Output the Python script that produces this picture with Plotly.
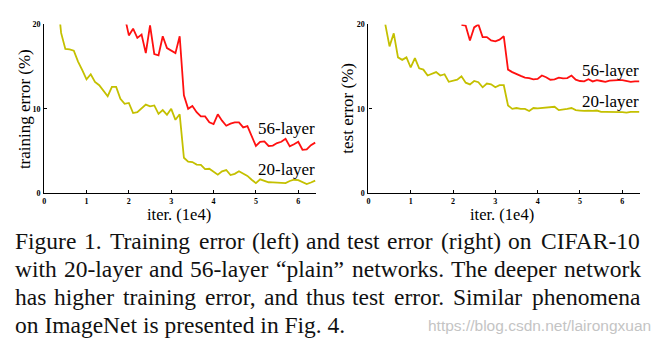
import plotly.graph_objects as go

W, H = 654, 345

# ---------------- data ----------------
train20_x = [round(0.3 + 0.1 * i, 1) for i in range(62)]
train20_y = [24.0, 19.0, 17.1, 17.05, 16.9, 15.6, 14.6, 13.5, 14.1, 13.2,
             12.8, 12.2, 11.5, 12.6, 12.6, 11.2, 10.6, 10.7, 9.5, 9.6,
             10.1, 10.5, 10.3, 10.4, 9.4, 9.85, 9.3, 10.0, 8.7, 9.35,
             4.2, 3.75, 3.7, 3.4, 3.35, 2.85, 2.9, 2.6, 2.2, 2.6,
             2.75, 2.15, 2.3, 2.6, 2.3, 2.05, 1.6, 1.2, 1.65, 1.45,
             1.3, 1.28, 1.25, 1.2, 1.2, 1.45, 1.6, 1.55, 1.35, 1.08,
             1.27, 1.5]

train56_x = [round(1.9 + 0.1 * i, 1) for i in range(46)]
train56_y = [21.0, 18.7, 19.5, 18.4, 18.8, 16.6, 19.9, 16.5, 16.35, 18.6,
             17.2, 16.9, 16.6, 18.6, 11.6, 10.0, 10.35, 9.6, 9.1, 9.1,
             8.4, 8.2, 9.35, 8.6, 8.0, 8.25, 8.4, 8.4, 7.8, 7.95,
             6.8, 5.6, 6.1, 6.15, 5.6, 5.65, 5.95, 6.1, 6.45, 5.55,
             5.8, 6.1, 5.15, 5.2, 5.7, 6.0]

test20_x = [round(0.4 + 0.1 * i, 1) for i in range(61)]
test20_y = [20.0, 17.4, 18.95, 16.1, 15.8, 16.1, 14.9, 16.0, 14.8, 14.65,
            13.95, 14.15, 14.35, 13.95, 14.1, 13.2, 13.3, 13.45, 13.85, 13.1,
            12.9, 13.3, 13.15, 12.55, 13.0, 12.9, 12.55, 12.8, 12.8, 10.4,
            10.0, 10.1, 10.0, 10.0, 9.75, 10.1, 10.05, 10.1, 10.1, 10.15,
            10.25, 9.85, 9.9, 10.0, 10.1, 9.85, 9.8, 9.75, 9.8, 9.75,
            9.8, 9.65, 9.65, 9.65, 9.65, 9.6, 9.6, 9.55, 9.65, 9.65,
            9.65]

test56_x = [round(2.2 + 0.1 * i, 1) for i in range(43)]
test56_y = [19.95, 19.85, 18.1, 19.65, 20.0, 18.5, 18.5, 18.1, 18.0, 18.2,
            18.6, 14.65, 14.35, 14.1, 13.9, 13.7, 13.65, 13.5, 13.55, 13.95,
            13.75, 13.45, 13.5, 13.7, 13.6, 13.65, 13.95, 13.45, 13.3, 13.25,
            13.5, 13.25, 13.4, 13.3, 13.2, 13.35, 13.4, 13.4, 13.4, 13.3,
            13.2, 13.25, 13.25]

x_ticks = [0, 1, 2, 3, 4, 5, 6]
y_ticks = [0, 10, 20]

caption_lines = [
    "Figure 1. Training error (left) and test error (right) on CIFAR-10",
    "with 20-layer and 56-layer \u201cplain\u201d networks. The deeper network",
    "has higher training error, and thus test error. Similar phenomena",
    "on ImageNet is presented in Fig. 4.",
]
watermark = "https://blog.csdn.net/lairongxuan"

# ---------------- styling ----------------
RED = "#ff1010"
YEL = "#c4c000"
SERIF = "Liberation Serif"

def px(x):
    return x / W

def py(y):
    return 1 - y / H

fig = go.Figure()
fig.add_trace(go.Scatter(x=train56_x, y=train56_y, mode="lines",
                         line=dict(color=RED, width=1.8), xaxis="x", yaxis="y"))
fig.add_trace(go.Scatter(x=train20_x, y=train20_y, mode="lines",
                         line=dict(color=YEL, width=1.8), xaxis="x", yaxis="y"))
fig.add_trace(go.Scatter(x=test56_x, y=test56_y, mode="lines",
                         line=dict(color=RED, width=1.8), xaxis="x2", yaxis="y2"))
fig.add_trace(go.Scatter(x=test20_x, y=test20_y, mode="lines",
                         line=dict(color=YEL, width=1.8), xaxis="x2", yaxis="y2"))

tickfont = dict(family=SERIF, size=8, color="black", weight="bold")
common = dict(showline=True, linecolor="black", linewidth=1.3, ticks="inside",
              ticklen=3, tickwidth=1, tickcolor="black", showgrid=False,
              zeroline=False, tickfont=tickfont, mirror=False)

ydom = [py(194.3), py(21)]
fig.update_layout(
    width=W, height=H, margin=dict(l=0, r=0, t=0, b=0),
    paper_bgcolor="white", plot_bgcolor="white", showlegend=False,
    xaxis=dict(domain=[px(42.3), px(315)], range=[0, 6.42], tickvals=x_ticks,
               anchor="y", ticklabelstandoff=0, **common),
    yaxis=dict(domain=ydom, range=[0, 20], tickvals=y_ticks, anchor="x",
               ticklabelstandoff=1, **common),
    xaxis2=dict(domain=[px(367.5), px(640)], range=[0, 6.42], tickvals=x_ticks,
                anchor="y2", ticklabelstandoff=0, **common),
    yaxis2=dict(domain=ydom, range=[0, 20], tickvals=y_ticks, anchor="x2",
                ticklabelstandoff=1, **common),
)

ann = []
def text(x, y, s, size, xanchor="center", yanchor="middle", angle=0,
         color="black", family=SERIF):
    ann.append(dict(x=px(x), y=py(y), xref="paper", yref="paper", text=s,
                    showarrow=False, xanchor=xanchor, yanchor=yanchor,
                    textangle=angle, font=dict(family=family, size=size, color=color),
                    borderpad=0))

# axis titles
text(22, 108, "training error (%)", 17, angle=-90)
text(346.5, 107, "test error (%)", 17, angle=-90)
text(177.5, 216, "iter. (1e4)", 16.5)
text(501.5, 216, "iter. (1e4)", 16.5)

# curve labels
text(315, 128, "56-layer", 17, xanchor="right")
text(315, 170, "20-layer", 17, xanchor="right")
text(640, 68, "56-layer", 17, xanchor="right")
text(640, 100, "20-layer", 17, xanchor="right")

# caption (justified lines placed word by word, by word centre)
TW = {' ': 250, '(': 333, ')': 333, ',': 250, '-': 333, '.': 250, '%': 833,
      'A': 722, 'C': 667, 'F': 556, 'I': 333, 'N': 722, 'R': 667, 'S': 556,
      'T': 611, 'a': 444, 'b': 500, 'c': 444, 'd': 500, 'e': 444, 'f': 333,
      'g': 500, 'h': 500, 'i': 278, 'k': 500, 'l': 278, 'm': 778, 'n': 500,
      'o': 500, 'p': 500, 'r': 333, 's': 389, 't': 278, 'u': 500, 'w': 722,
      'y': 500, 'v': 500, 'x': 500, '\u201c': 444, '\u201d': 444}
K = 1.045
def wwidth(word, fs):
    return sum(TW.get(c, 500) for c in word) / 1000 * fs * K

CAP_FS = 23.5
cap_left, cap_right = 12, 643
cap_y = [243, 272, 301, 330]
for i, line in enumerate(caption_lines):
    yy = cap_y[i]
    if i == len(caption_lines) - 1:
        text(cap_left, yy, line, CAP_FS, xanchor="left", color="#111111")
        continue
    words = line.split(" ")
    widths = [wwidth(w, CAP_FS) for w in words]
    gap = (cap_right - cap_left - sum(widths)) / (len(words) - 1)
    xcur = cap_left
    for j, w in enumerate(words):
        text(xcur + widths[j] / 2, yy, w, CAP_FS, xanchor="center", color="#111111")
        xcur += widths[j] + gap

text(652, 330, watermark, 15.5, xanchor="right", color="#c4c4c4",
     family="Liberation Sans")

fig.update_layout(annotations=ann)
fig.write_html("out.html")
